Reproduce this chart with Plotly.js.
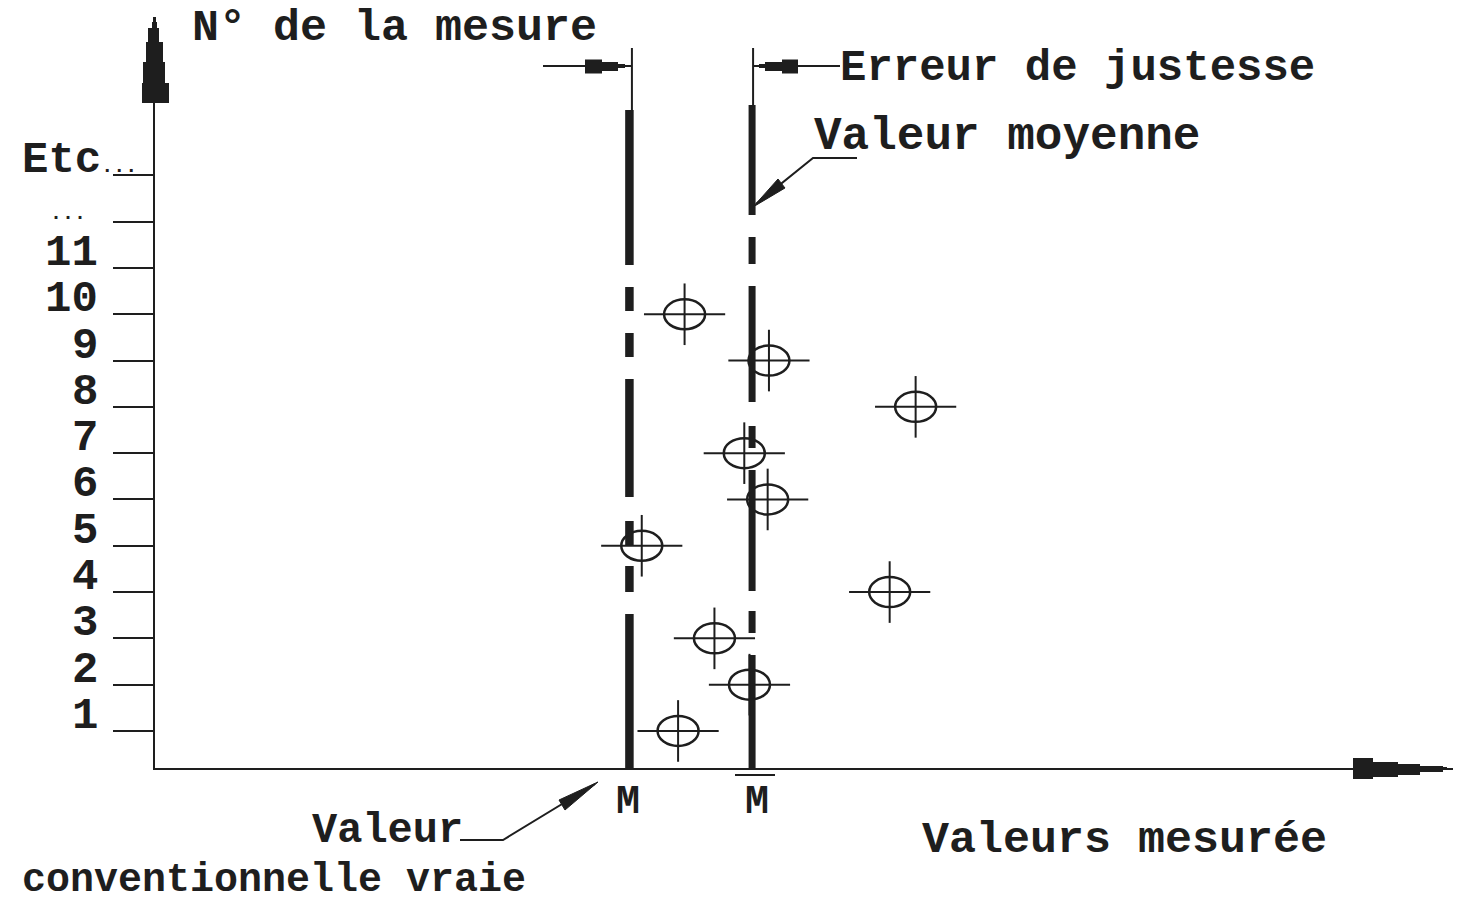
<!DOCTYPE html>
<html>
<head>
<meta charset="utf-8">
<script src="https://cdn.plot.ly/plotly-3.0.1.min.js"></script>
<style>
html, body { margin: 0; padding: 0; background: #ffffff; }
#chart { width: 1468px; height: 903px; }
</style>
</head>
<body>
<div id="chart"></div>
<script>
// ---------------- data ----------------
const measureNumbers = [1, 2, 3, 4, 5, 6, 7, 8, 9, 10];
const measuredValues = [40.3, 45.8, 43.1, 56.6, 37.5, 47.2, 45.4, 58.6, 47.3, 40.8];
const yTickValues = [1, 2, 3, 4, 5, 6, 7, 8, 9, 10, 11, 12, 13];
const yTickLabels = ['1', '2', '3', '4', '5', '6', '7', '8', '9', '10', '11', '...', 'Etc...'];
const referenceNames = ['Valeur conventionnelle vraie', 'Valeur moyenne'];
const referenceValues = [36.55, 46.0];
const referenceLabels = ['M', 'M'];
const yAxisTitle = 'N° de la mesure';
const xAxisTitle = 'Valeurs mesurée';
const accuracyLabel = 'Erreur de justesse';
const meanLabel = 'Valeur moyenne';
const trueLabelLine1 = 'Valeur';
const trueLabelLine2 = 'conventionnelle vraie';

// ---------------- geometry ----------------
const W = 1468, H = 903;
const M = { l: 155, r: 15, t: 17, b: 135 };
const PW = W - M.l - M.r, PH = H - M.t - M.b;
const X_RANGE = [0, 100];
const Y_PX_PER_UNIT = 46.3;
const Y_MIN = 0.2;
const Y_RANGE = [Y_MIN, Y_MIN + PH / Y_PX_PER_UNIT];
const INK = '#1e1e1e';
const FONT = 'Liberation Mono, Courier New, monospace';

// pixel -> paper / data helpers (decorations only)
const pX = p => (p - M.l) / PW;
const pY = p => (H - M.b - p) / PH;
const dY = p => Y_MIN + (H - M.b - p) / Y_PX_PER_UNIT;
const poly = pts => 'M ' + pts.map(q => pX(q[0]).toFixed(5) + ',' + pY(q[1]).toFixed(5)).join(' L ') + ' Z';
const polyline = pts => 'M ' + pts.map(q => pX(q[0]).toFixed(5) + ',' + pY(q[1]).toFixed(5)).join(' L ');

// ---------------- traces ----------------
const dashTrue = '154px,22px,26px,20px,25px,24px,118px,22px,24px,22px,24px,22px,155px,600px';
const dashMean = '113px,22px,22px,20px,121px,22px,22px,24px,116px,22px,27px,22px,110px,600px';

const traces = [];
// thick reference lines (M and M-bar)
traces.push({
  x: [referenceValues[0], referenceValues[0]], y: [Y_MIN, dY(110)],
  mode: 'lines', line: { color: INK, width: 8.5, dash: dashTrue },
  hoverinfo: 'skip', showlegend: false, name: referenceNames[0]
});
traces.push({
  x: [referenceValues[1], referenceValues[1]], y: [Y_MIN, dY(105)],
  mode: 'lines', line: { color: INK, width: 7, dash: dashMean },
  hoverinfo: 'skip', showlegend: false, name: referenceNames[1]
});
// thin extension lines (dimension lines)
traces.push({
  x: [referenceValues[0] + 2.5 / (PW / 100), referenceValues[0] + 2.5 / (PW / 100)], y: [dY(112), dY(48)],
  mode: 'lines', line: { color: INK, width: 2 }, hoverinfo: 'skip', showlegend: false
});
traces.push({
  x: [referenceValues[1] + 1 / (PW / 100), referenceValues[1] + 1 / (PW / 100)], y: [dY(107), dY(48)],
  mode: 'lines', line: { color: INK, width: 2 }, hoverinfo: 'skip', showlegend: false
});
// measurement crosshairs
traces.push({
  x: measuredValues, y: measureNumbers, mode: 'markers',
  marker: { symbol: 'line-ew', size: 58, line: { color: INK, width: 2 } },
  hoverinfo: 'x+y', showlegend: false, name: 'mesures'
});
traces.push({
  x: measuredValues, y: measureNumbers, mode: 'markers',
  marker: { symbol: 'line-ns', size: 44, line: { color: INK, width: 2 } },
  hoverinfo: 'skip', showlegend: false
});

// ---------------- shapes ----------------
const shapes = [];
// ellipses around each measurement
measuredValues.forEach((v, i) => {
  shapes.push({
    type: 'circle', xref: 'x', yref: 'y',
    xsizemode: 'pixel', ysizemode: 'pixel',
    xanchor: v, yanchor: measureNumbers[i],
    x0: -20.5, x1: 20.5, y0: -15, y1: 15,
    line: { color: INK, width: 2.5 }, fillcolor: 'rgba(0,0,0,0)', layer: 'above'
  });
});
// y axis arrow head (stepped)
shapes.push({
  type: 'path', xref: 'paper', yref: 'paper', layer: 'above',
  path: poly([[153,17],[156,17],[156,22],[157,22],[157,28],[159,28],[159,42],[163,42],[163,62],[165,62],[165,83],[169,83],[169,103],
              [142,103],[142,83],[143,83],[143,62],[146,62],[146,42],[148,42],[148,28],[152,28],[152,22],[153,22]]),
  fillcolor: INK, line: { width: 0 }
});
// x axis arrow head (stepped)
shapes.push({
  type: 'path', xref: 'paper', yref: 'paper', layer: 'above',
  path: poly([[1353,758],[1373,758],[1373,762],[1398,762],[1398,764],[1420,764],[1420,766],[1443,766],[1443,767],[1447,767],
              [1447,770],[1443,770],[1443,772],[1420,772],[1420,775],[1398,775],[1398,777],[1373,777],[1373,779],[1353,779]]),
  fillcolor: INK, line: { width: 0 }
});
// dimension arrow (left) pointing to M
shapes.push({ type: 'line', xref: 'paper', yref: 'paper', x0: pX(543), x1: pX(632), y0: pY(66), y1: pY(66), line: { color: INK, width: 2 } });
shapes.push({
  type: 'path', xref: 'paper', yref: 'paper', layer: 'above',
  path: poly([[585,59.5],[602,59.5],[602,62],[618,62],[618,64],[625,64],[625,68],[618,68],[618,71],[602,71],[602,73.5],[585,73.5]]),
  fillcolor: INK, line: { width: 0 }
});
// dimension arrow (right) pointing to M-bar
shapes.push({ type: 'line', xref: 'paper', yref: 'paper', x0: pX(753), x1: pX(840), y0: pY(66), y1: pY(66), line: { color: INK, width: 2 } });
shapes.push({
  type: 'path', xref: 'paper', yref: 'paper', layer: 'above',
  path: poly([[798,59.5],[782,59.5],[782,62],[765,62],[765,64],[759,64],[759,68],[765,68],[765,71],[782,71],[782,73.5],[798,73.5]]),
  fillcolor: INK, line: { width: 0 }
});
// leader: valeur moyenne
shapes.push({ type: 'path', xref: 'paper', yref: 'paper', path: polyline([[857,158],[813,158],[756,204]]), line: { color: INK, width: 2 } });
shapes.push({
  type: 'path', xref: 'paper', yref: 'paper', layer: 'above',
  path: poly([[753,207],[785,188],[778,179]]), fillcolor: INK, line: { color: INK, width: 1 }
});
// leader: valeur conventionnelle vraie
shapes.push({ type: 'path', xref: 'paper', yref: 'paper', path: polyline([[460,840],[503,840],[595,784]]), line: { color: INK, width: 2 } });
shapes.push({
  type: 'path', xref: 'paper', yref: 'paper', layer: 'above',
  path: poly([[598,782],[565,810],[559,800]]), fillcolor: INK, line: { color: INK, width: 1 }
});
// overline of M-bar label
shapes.push({ type: 'line', xref: 'paper', yref: 'paper', x0: pX(735), x1: pX(775), y0: pY(775), y1: pY(775), line: { color: INK, width: 2 } });

// ---------------- annotations ----------------
const baseFont = { family: FONT, size: 44, color: INK, weight: 'bold' };
const annotations = [];
const txt = (text, xpx, ypx, anchor, size) => annotations.push({
  text: text, xref: 'paper', yref: 'paper', x: pX(xpx), y: pY(ypx),
  xanchor: anchor || 'left', yanchor: 'middle', showarrow: false,
  font: Object.assign({}, baseFont, size ? { size: size } : {})
});
// y tick labels (sit just above their tick)
yTickLabels.forEach((lab, i) => {
  const small = s => s.replace('...', "<span style='font-size:20px'>...</span>");
  const a = {
    text: small(lab), xref: 'paper', yref: 'y', x: 0, y: yTickValues[i],
    xanchor: 'right', yanchor: 'middle', xshift: 100 - M.l, yshift: 15,
    showarrow: false, font: baseFont
  };
  if (lab === 'Etc...') { a.xanchor = 'left'; a.xshift = 20 - M.l; }
  if (lab === '...') { a.xshift = 88 - M.l; a.yshift = 8; }
  annotations.push(a);
});
txt(yAxisTitle, 190, 28, 'left', 45);
txt(accuracyLabel, 838, 68);
txt(meanLabel, 812, 137, 'left', 46);
txt(xAxisTitle, 920, 840, 'left', 45);
txt(trueLabelLine1, 310, 831, 'left', 42);
txt(trueLabelLine2, 20, 880, 'left', 40);
// reference labels under the x axis, placed at their data values
referenceLabels.forEach((lab, i) => {
  annotations.push({
    text: lab, xref: 'x', yref: 'paper', x: referenceValues[i], y: pY(803),
    xanchor: 'center', yanchor: 'middle', xshift: i === 0 ? -1 : 5, showarrow: false,
    font: Object.assign({}, baseFont, { size: 40 })
  });
});

const layout = {
  width: W, height: H,
  margin: M,
  paper_bgcolor: '#ffffff', plot_bgcolor: '#ffffff',
  showlegend: false,
  xaxis: {
    range: X_RANGE, showgrid: false, zeroline: false, showticklabels: false, ticks: '',
    showline: true, linecolor: INK, linewidth: 2, fixedrange: true
  },
  yaxis: {
    range: Y_RANGE, showgrid: false, zeroline: false, showticklabels: false,
    tickmode: 'array', tickvals: yTickValues, ticks: 'outside', ticklen: 40, tickwidth: 2, tickcolor: INK,
    showline: true, linecolor: INK, linewidth: 2, fixedrange: true
  },
  shapes: shapes,
  annotations: annotations
};

Plotly.newPlot('chart', traces, layout, { displayModeBar: false, staticPlot: true });
</script>
</body>
</html>
